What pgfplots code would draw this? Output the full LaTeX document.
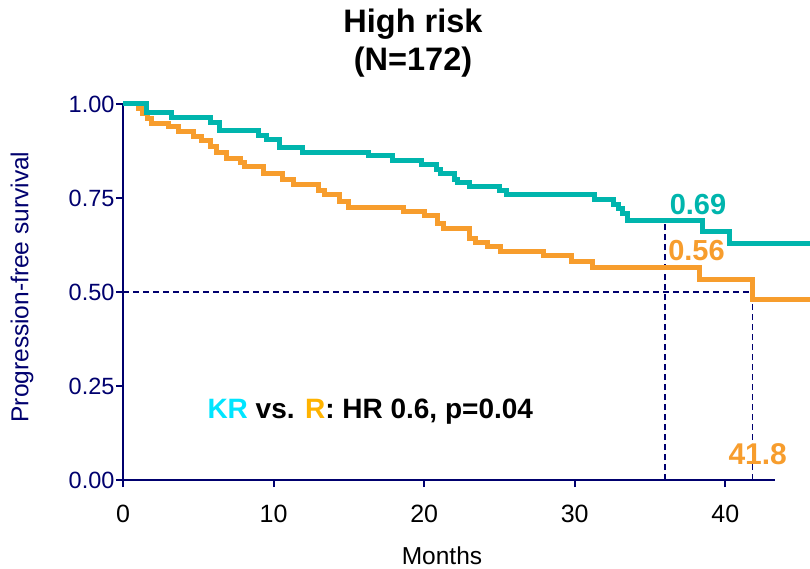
\documentclass[border=0pt]{standalone}
\usepackage{pgfplots}
\pgfplotsset{compat=1.18}
\usepackage{fontspec}
\setmainfont{Liberation Sans}
\definecolor{teal1}{RGB}{0,181,173}
\definecolor{orng}{RGB}{247,157,45}
\definecolor{navy}{RGB}{0,0,110}
\definecolor{kr}{RGB}{0,229,255}
\definecolor{rr}{RGB}{255,179,0}
\begin{document}
\begin{tikzpicture}
\useasboundingbox (-123pt,-88pt) rectangle (687pt,480pt);
\begin{axis}[
  scale only axis, width=652pt, height=376pt,
  xmin=0, xmax=43.3, ymin=0, ymax=1,
  clip=false,
  axis x line=bottom, axis y line=left,
  axis line style={navy, line width=2.5pt, -},
  xtick={0,10,20,30,40},
  ytick={0,0.25,0.5,0.75,1},
  yticklabels={0.00,0.25,0.50,0.75,1.00},
  tick align=outside, major tick length=7pt,
  tick style={navy, line width=2pt},
  /pgf/number format/assume math mode=true,
  xticklabel style={font=\fontsize{25}{28}\selectfont, black, yshift=-15pt},
  yticklabel style={font=\fontsize{23.5}{26}\selectfont, navy, xshift=2pt},
]
\addplot[navy, line width=1.8pt, dash pattern=on 6pt off 4pt] coordinates {(0,0.5) (41.8,0.5)};
\addplot[navy, line width=1.8pt, dash pattern=on 6pt off 4pt] coordinates {(36,0) (36,0.69)};
\addplot[navy, line width=1.8pt, dash pattern=on 6pt off 4pt] coordinates {(41.8,0) (41.8,0.5)};
\addplot[const plot, orng, line width=5pt] coordinates {
(0,1.0) (1.0,0.987) (1.3,0.975) (1.6,0.962) (1.9,0.949) (3.0,0.940) (3.7,0.926)
(4.7,0.913) (5.2,0.902) (5.8,0.886) (6.2,0.870) (6.9,0.855) (7.8,0.844) (8.1,0.833)
(9.3,0.816) (10.6,0.798) (11.3,0.787) (13.0,0.771) (13.4,0.758) (14.4,0.742)
(15.0,0.725) (18.6,0.715) (20.0,0.703) (20.9,0.683) (21.3,0.668) (23.0,0.643)
(23.4,0.631) (24.2,0.620) (25.1,0.609) (27.9,0.596) (29.8,0.581) (31.2,0.566)
(38.3,0.534) (41.8,0.479) (45.6,0.479)};
\addplot[const plot, teal1, line width=5pt] coordinates {
(0,1.0) (1.57,0.977) (3.2,0.963) (5.8,0.950) (6.4,0.929) (9.0,0.915) (9.5,0.906)
(10.4,0.885) (11.9,0.872) (16.3,0.862) (17.9,0.851) (19.8,0.840) (20.8,0.827)
(21.1,0.816) (22.0,0.800) (22.2,0.792) (23.0,0.780) (25.0,0.769) (25.5,0.758)
(31.3,0.745) (32.6,0.733) (32.9,0.722) (33.2,0.710) (33.5,0.690) (38.5,0.660)
(40.3,0.629) (45.6,0.629)};
\node[anchor=base west, inner sep=0, teal1, font=\fontsize{29}{32}\selectfont\bfseries] at (axis cs:36.3,0.707) {0.69};
\node[anchor=base west, inner sep=0, orng, font=\fontsize{29}{32}\selectfont\bfseries] at (axis cs:36.2,0.585) {0.56};
\node[anchor=base west, inner sep=0, orng, font=\fontsize{30}{32}\selectfont\bfseries] at (axis cs:40.2,0.040) {41.8};
\node[anchor=base west, inner sep=0, font=\fontsize{28}{30}\selectfont\bfseries] at (axis cs:5.6,0.164) {\textcolor{kr}{KR} vs. \textcolor{rr}{R}: HR 0.6, p=0.04};
\end{axis}
\node[anchor=base, inner sep=0, font=\fontsize{32.5}{34}\selectfont\bfseries] at (290pt,447pt) {High risk};
\node[anchor=base, inner sep=0, font=\fontsize{32.5}{34}\selectfont\bfseries] at (290pt,409pt) {(N=172)};
\node[anchor=center, inner sep=0, rotate=90, navy, font=\fontsize{24.5}{28}\selectfont] at (-101pt,193pt) {Progression-free survival};
\node[anchor=base, inner sep=0, font=\fontsize{24.5}{28}\selectfont] at (319pt,-84pt) {Months};
\end{tikzpicture}
\end{document}
